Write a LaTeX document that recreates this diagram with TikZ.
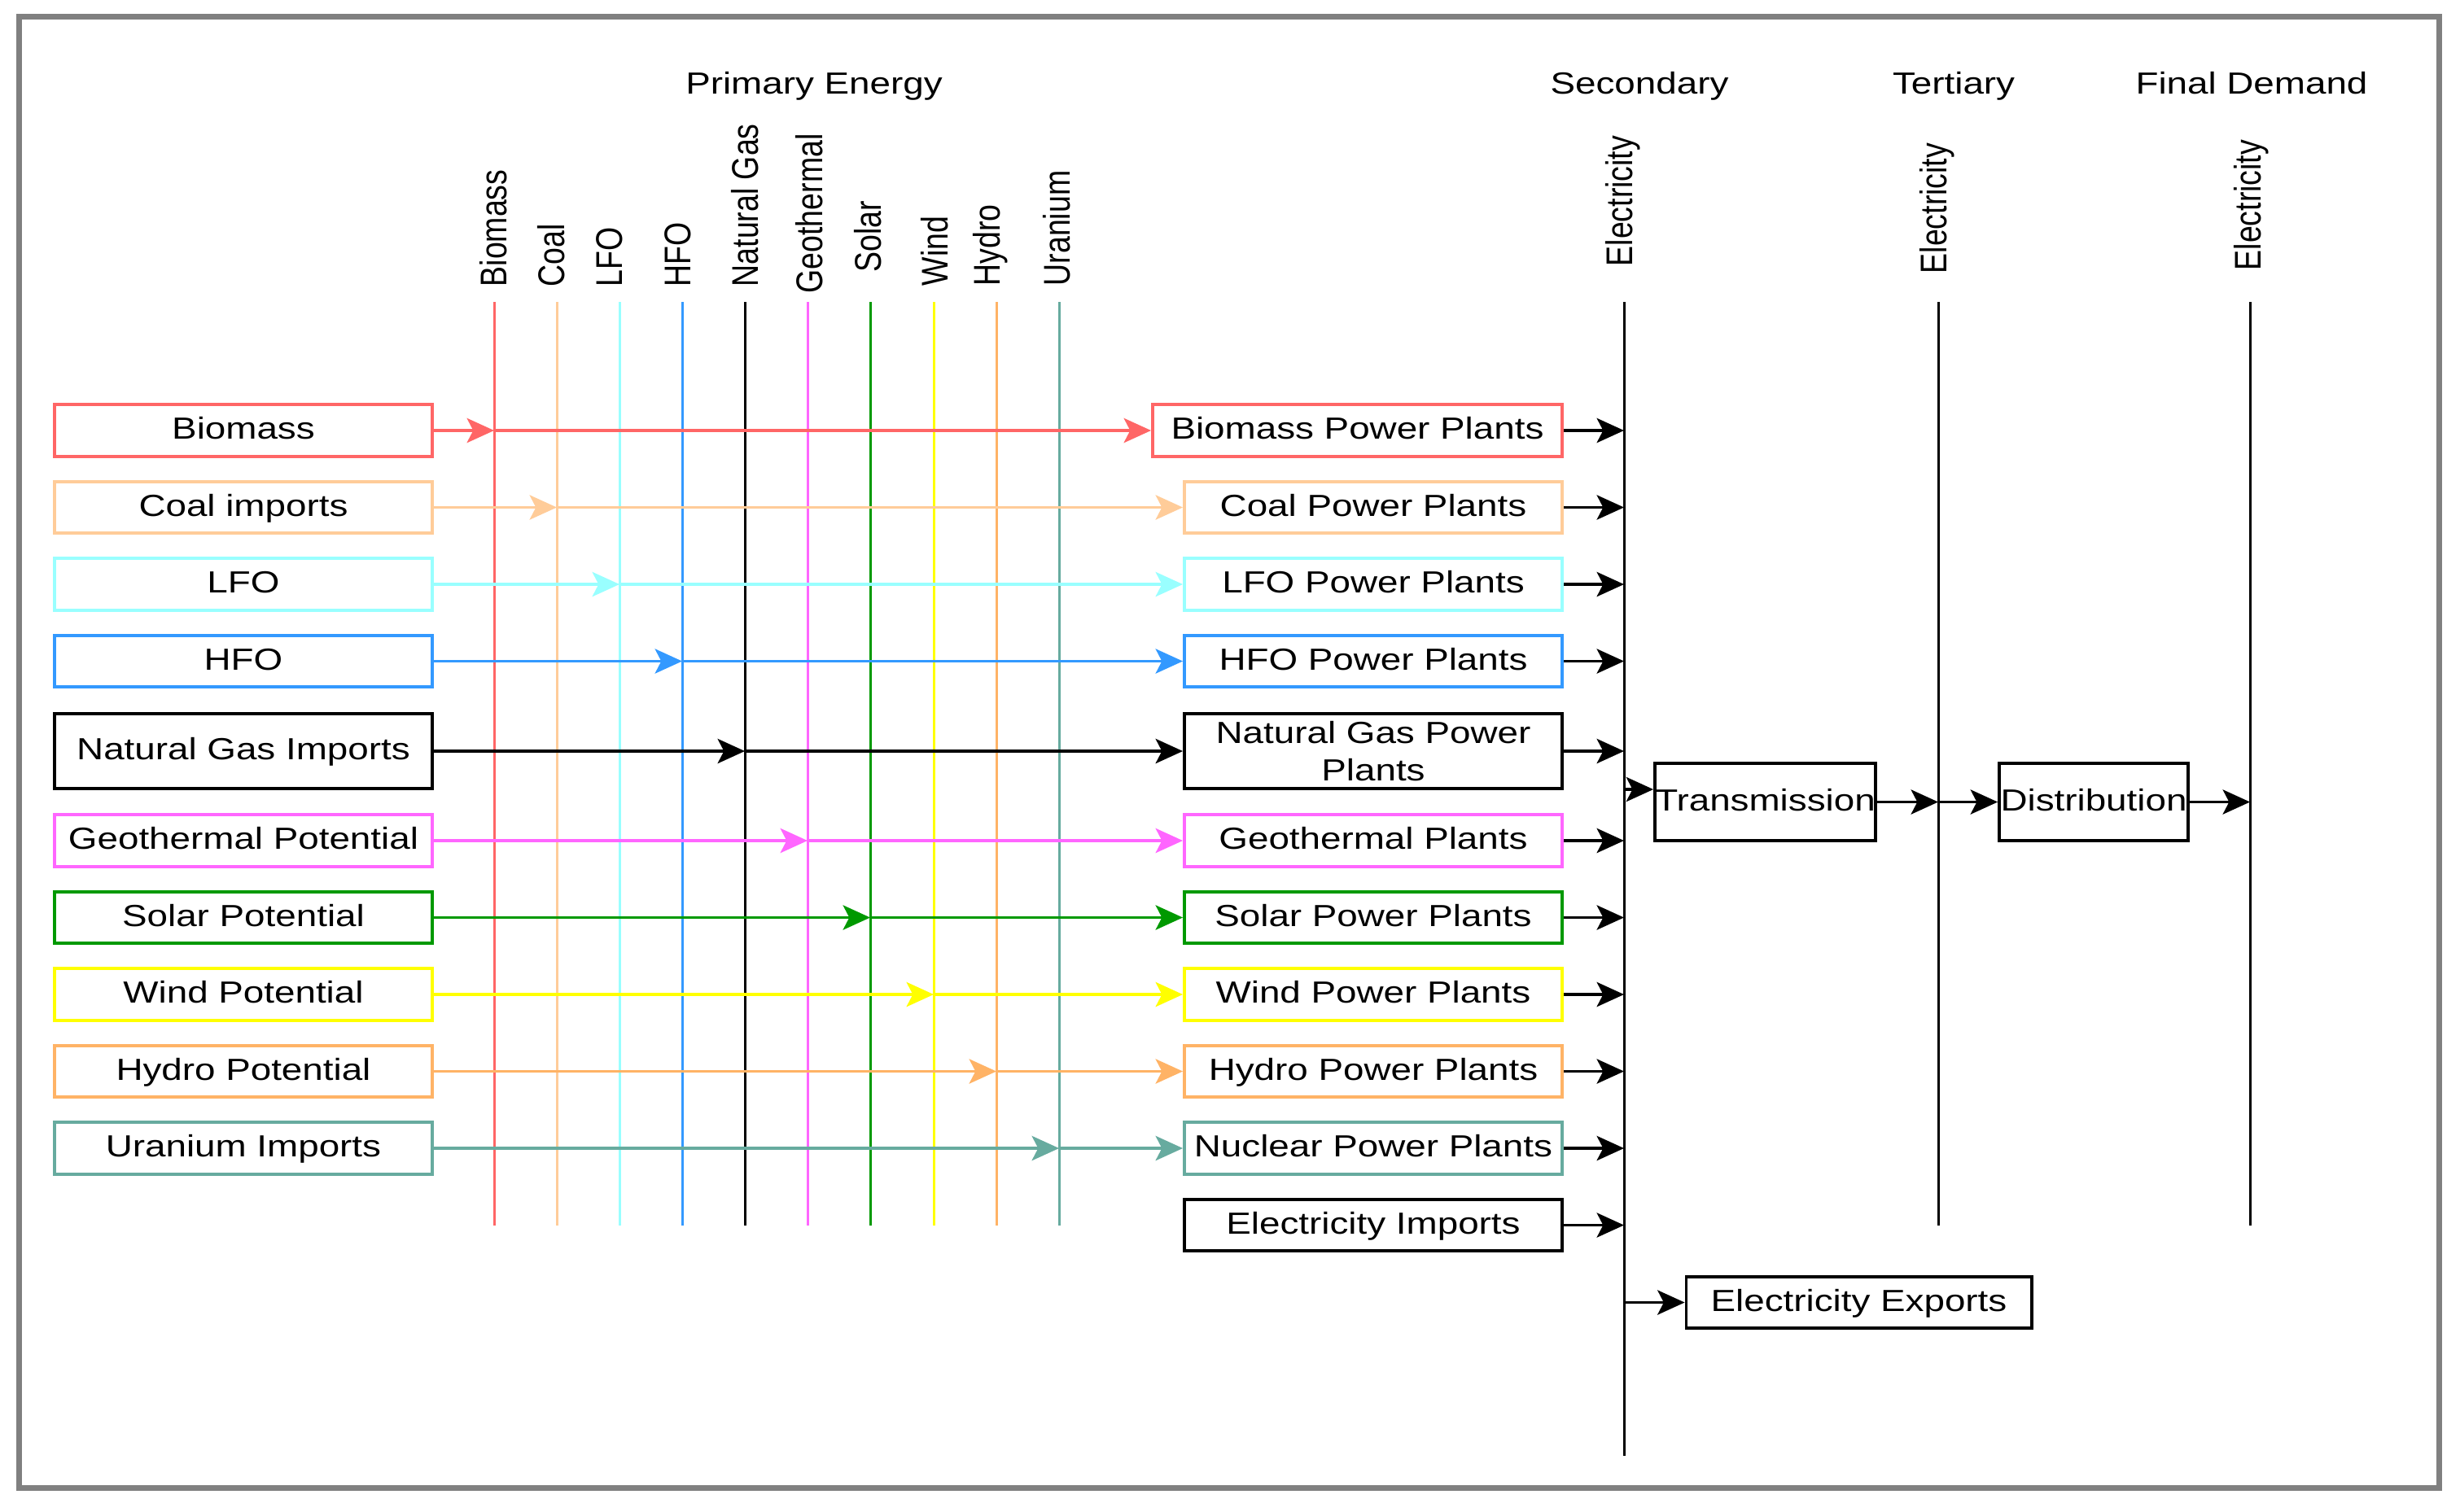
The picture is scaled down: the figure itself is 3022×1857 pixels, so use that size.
\documentclass[tikz,border=0pt]{standalone}
\usepackage{fontspec}
\setmainfont{Liberation Sans}
\newfontfamily\hfont[FakeStretch=1.22]{Liberation Sans}
\newfontfamily\vfont[FakeStretch=0.82]{Liberation Sans}
\usetikzlibrary{arrows.meta}
\definecolor{cBio}{HTML}{FF6666}
\definecolor{cCoal}{HTML}{FFCC99}
\definecolor{cLFO}{HTML}{99FFFF}
\definecolor{cHFO}{HTML}{3399FF}
\definecolor{cGeo}{HTML}{FF66FF}
\definecolor{cSol}{HTML}{009900}
\definecolor{cWind}{HTML}{FFFF00}
\definecolor{cHyd}{HTML}{FFB366}
\definecolor{cUra}{HTML}{67AB9F}
\definecolor{frameg}{HTML}{808080}
\begin{document}
\begin{tikzpicture}[x=0.01cm,y=-0.01cm,
  hf/.style={font=\hfont\fontsize{10.67pt}{13.1pt}\selectfont},
  vf/.style={font=\vfont\fontsize{13pt}{15pt}\selectfont, rotate=90, anchor=base west, inner sep=0pt},
  ttl/.style={hf, anchor=base, inner sep=0pt},
  box/.style={hf, draw, line width=1.05pt, fill=white, inner sep=0pt, minimum width=4.64cm, minimum height=0.635cm},
  lbox/.style={box, text height=8.5pt, text depth=2.3pt},
  vline/.style={line width=0.85pt},
  arr/.style={line width=1pt, -{Stealth[length=9.5pt,width=8.6pt,inset=2.2pt]}}
]
\useasboundingbox (0,0) rectangle (3022,1857);
\draw[frameg, line width=2pt] (23.5,20.5) rectangle (2996,1828);

% titles
\node[ttl] (tPrim) at (1000,115) {Primary Energy};
\node[ttl] (tSec) at (2014,115) {Secondary};
\node[ttl] (tTer) at (2400,115) {Tertiary};
\node[ttl] (tFin) at (2766,115) {Final Demand};

% vertical labels
\node[vf] (vBio) at (622,353) {Biomass};
\node[vf] (vCoal) at (693,353) {Coal};
\node[vf] (vLFO) at (764,353) {LFO};
\node[vf] (vHFO) at (848,353) {HFO};
\node[vf] (vNG) at (931,353) {Natural Gas};
\node[vf] (vGeo) at (1010,361) {Geothermal};
\node[vf] (vSol) at (1082,335) {Solar};
\node[vf] (vWind) at (1164,352) {Wind};
\node[vf] (vHyd) at (1228,352) {Hydro};
\node[vf] (vUra) at (1314,352) {Uranium};
\node[vf] (vE1) at (2005,328) {Electricity};
\node[vf] (vE2) at (2391,337) {Electricity};
\node[vf] (vE3) at (2777,333) {Electricity};

% primary energy carrier lines
\foreach \n/\x/\c in {Bio/607/cBio, Coal/684/cCoal, LFO/761/cLFO, HFO/838/cHFO, NG/915/black, Geo/992/cGeo, Sol/1069/cSol, Wind/1147/cWind, Hyd/1224/cHyd, Ura/1301/cUra}{
  \coordinate (t\n) at (\x,371);
  \coordinate (b\n) at (\x,1506);
  \draw[vline, \c] (t\n) -- (b\n);
}
% secondary, tertiary, final lines
\coordinate (secT) at (1995,371); \coordinate (secB) at (1995,1789);
\coordinate (terT) at (2381,371); \coordinate (terB) at (2381,1506);
\coordinate (finT) at (2764,371); \coordinate (finB) at (2764,1506);
\draw[vline] (secT) -- (secB);
\draw[vline] (terT) -- (terB);
\draw[vline] (finT) -- (finB);

% left boxes
\node[lbox, draw=cBio] (lBio) at (299,529) {Biomass};
\node[lbox, draw=cCoal] (lCoal) at (299,623.5) {Coal imports};
\node[lbox, draw=cLFO] (lLFO) at (299,718) {LFO};
\node[lbox, draw=cHFO] (lHFO) at (299,812.5) {HFO};
\node[lbox, draw=black, minimum height=0.92cm] (lNG) at (299,923) {Natural Gas Imports};
\node[lbox, draw=cGeo] (lGeo) at (299,1033) {Geothermal Potential};
\node[lbox, draw=cSol] (lSol) at (299,1127.5) {Solar Potential};
\node[lbox, draw=cWind] (lWind) at (299,1222) {Wind Potential};
\node[lbox, draw=cHyd] (lHyd) at (299,1316.5) {Hydro Potential};
\node[lbox, draw=cUra] (lUra) at (299,1411) {Uranium Imports};

% power plant boxes
\node[lbox, draw=cBio, minimum width=5.03cm] (pBio) at (1667.5,529) {Biomass Power Plants};
\node[lbox, draw=cCoal] (pCoal) at (1687,623.5) {Coal Power Plants};
\node[lbox, draw=cLFO] (pLFO) at (1687,718) {LFO Power Plants};
\node[lbox, draw=cHFO] (pHFO) at (1687,812.5) {HFO Power Plants};
\node[box, draw=black, minimum height=0.92cm, align=center] (pNG) at (1687,923) {Natural Gas Power\\Plants};
\node[lbox, draw=cGeo] (pGeo) at (1687,1033) {Geothermal Plants};
\node[lbox, draw=cSol] (pSol) at (1687,1127.5) {Solar Power Plants};
\node[lbox, draw=cWind] (pWind) at (1687,1222) {Wind Power Plants};
\node[lbox, draw=cHyd] (pHyd) at (1687,1316.5) {Hydro Power Plants};
\node[lbox, draw=cUra] (pUra) at (1687,1411) {Nuclear Power Plants};
\node[lbox, draw=black] (pImp) at (1687,1505.5) {Electricity Imports};

% right boxes
\node[lbox, draw=black, minimum width=2.71cm, minimum height=0.95cm] (tr) at (2168.5,985.5) {Transmission};
\node[lbox, draw=black, minimum width=2.32cm, minimum height=0.95cm] (di) at (2572,985.5) {Distribution};
\node[lbox, draw=black, minimum width=4.24cm] (ex) at (2283.5,1600.5) {Electricity Exports};

% flows from resources through carriers to plants
\foreach \n/\x/\c in {Bio/607/cBio, Coal/684/cCoal, LFO/761/cLFO, HFO/838/cHFO, NG/915/black, Geo/992/cGeo, Sol/1069/cSol, Wind/1147/cWind, Hyd/1224/cHyd, Ura/1301/cUra}{
  \coordinate (j\n) at (l\n.east -| t\n);
  \draw[arr, \c] (l\n.east) -- (j\n);
  \draw[arr, \c] (j\n) -- (p\n.west);
}
% plants to secondary electricity
\foreach \n in {Bio, Coal, LFO, HFO, NG, Geo, Sol, Wind, Hyd, Ura, Imp}{
  \coordinate (s\n) at (p\n.east -| secT);
  \draw[arr] (p\n.east) -- (s\n);
}
% transmission and distribution chain
\coordinate (sTr) at (1995,970);
\draw[arr] (sTr) -- (sTr -| tr.west);
\coordinate (tTr) at (tr.east -| terT);
\draw[arr] (tr.east) -- (tTr);
\draw[arr] (tTr) -- (di.west);
\coordinate (fDi) at (di.east -| finT);
\draw[arr] (di.east) -- (fDi);
\coordinate (sEx) at (ex.west -| secT);
\draw[arr] (sEx) -- (ex.west);
\end{tikzpicture}
\end{document}
